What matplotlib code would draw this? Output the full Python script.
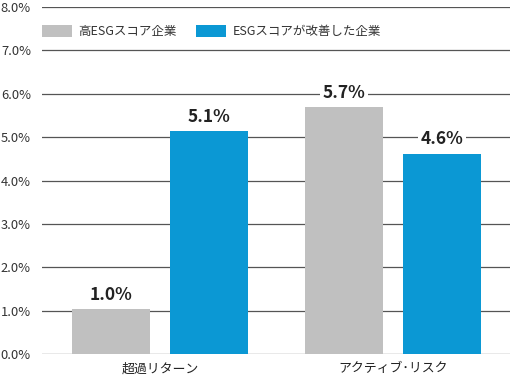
import matplotlib
matplotlib.use("Agg")
import matplotlib.pyplot as plt
import numpy as np

plt.rcParams['font.family'] = ['Noto Sans CJK JP', 'DejaVu Sans']

categories = ["超過リターン", "アクティブ･リスク"]
series_names = ["高ESGスコア企業", "ESGスコアが改善した企業"]
high_esg = [1.03, 5.69]
improved_esg = [5.13, 4.61]
high_labels = ["1.0%", "5.7%"]
improved_labels = ["5.1%", "4.6%"]
yticks = [0, 1, 2, 3, 4, 5, 6, 7, 8]

GRAY = "#c0c0c0"
BLUE = "#0b98d4"

fig = plt.figure(figsize=(5.12, 3.78), dpi=100)
ax = fig.add_axes([42 / 512, 24 / 378, 468 / 512, 347 / 378])

x = np.arange(len(categories))
w = 0.335
off = 0.21

b1 = ax.bar(x - off, high_esg, w, color=GRAY, label=series_names[0], zorder=3)
b2 = ax.bar(x + off, improved_esg, w, color=BLUE, label=series_names[1], zorder=3)

for bars, labels in [(b1, high_labels), (b2, improved_labels)]:
    for bar, lab in zip(bars, labels):
        ax.annotate(lab, (bar.get_x() + bar.get_width() / 2, bar.get_height()),
                    xytext=(0, 4), textcoords="offset points", ha="center", va="bottom",
                    fontsize=12.5, fontweight="bold", color="#222222", zorder=4,
                    bbox=dict(boxstyle="square,pad=0.15", fc="white", ec="none"))

ax.set_xlim(-0.506, 1.503)
ax.set_ylim(0, 8)
ax.set_yticks(yticks)
ax.set_yticklabels([f"{v:.1f}%" for v in yticks], fontsize=9.3, color="#333333")
ax.set_xticks(x)
ax.set_xticklabels(categories, fontsize=9.3, color="#222222")
ax.tick_params(axis="both", length=0, pad=6)
ax.tick_params(axis="y", pad=8)
ax.yaxis.grid(True, color="#555555", linewidth=0.9, zorder=0)
ax.set_axisbelow(True)
for s in ax.spines.values():
    s.set_visible(False)

ax.legend(loc="upper left", bbox_to_anchor=(-0.025, 0.98), ncol=2, frameon=False,
          fontsize=9, handlelength=2.4, handleheight=1.0, columnspacing=1.6,
          handletextpad=0.5, labelcolor="#333333")

fig.savefig("out.png", dpi=100)
